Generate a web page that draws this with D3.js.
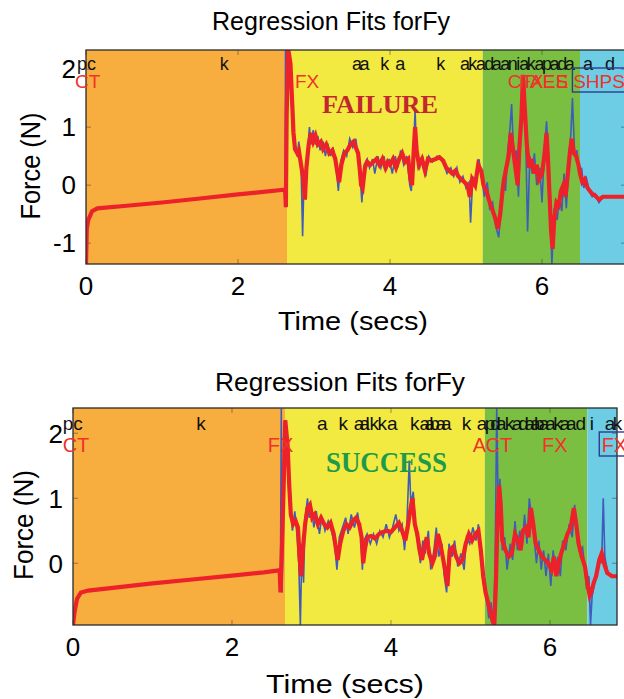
<!DOCTYPE html>
<html><head><meta charset="utf-8">
<script src="https://cdn.jsdelivr.net/npm/d3@7"></script>
<style>body{margin:0;background:#fff}svg{display:block}</style>
</head><body>
<script>
// ---------- DATA ----------
const chartTitle = "Regression Fits forFy";
const xLabel = "Time (secs)";
const yLabel = "Force (N)";
const xTicks = [0, 2, 4, 6];
const yTicksTop = [-1, 0, 1, 2];
const yTicksBottom = [0, 1, 2];
const phaseColors = ["#F8AE3F", "#F2EA41", "#7BBF42", "#6CCDE5"];
const phaseBoundsTop = [0, 2.645, 5.22, 6.5, 7.105];
const phaseBoundsBottom = [0, 2.667, 5.18, 6.47, 6.843];
const outcomeTop = "FAILURE";
const outcomeBottom = "SUCCESS";

// red regression fit, top panel (time, force)
const fitTop = [[0,-1.36],[0.01,-0.75],[0.03,-0.6],[0.08,-0.45],[0.15,-0.4],[0.5,-0.36],[1.0,-0.3],[1.5,-0.23],[2.0,-0.16],[2.3,-0.12],[2.6,-0.08],[2.62,-0.08],[2.63,-0.38],[2.64,1.2],[2.66,2.35],[2.69,2.1],[2.71,1.5],[2.73,0.9],[2.75,0.62],[2.78,0.55],[2.8,0.6],[2.83,0.35],[2.86,0.1],[2.88,-0.25],[2.9,0.3],[2.93,0.7],[2.96,0.9],[2.99,0.75],[3.02,0.85],[3.05,0.7],[3.09,0.75],[3.12,0.62],[3.16,0.7],[3.2,0.55],[3.24,0.6],[3.28,0.45],[3.31,0.2],[3.33,0.05],[3.36,0.35],[3.4,0.55],[3.44,0.6],[3.48,0.7],[3.52,0.75],[3.55,0.65],[3.58,0.55],[3.6,0.3],[3.62,0.0],[3.64,-0.05],[3.67,0.3],[3.7,0.4],[3.74,0.35],[3.78,0.4],[3.82,0.45],[3.86,0.35],[3.9,0.45],[3.94,0.3],[3.97,0.4],[4.0,0.35],[4.04,0.45],[4.08,0.3],[4.12,0.45],[4.16,0.55],[4.2,0.4],[4.24,0.45],[4.27,0.1],[4.29,0.0],[4.31,0.55],[4.33,1.0],[4.35,0.6],[4.38,0.35],[4.42,0.45],[4.46,0.25],[4.5,0.45],[4.54,0.42],[4.6,0.45],[4.65,0.48],[4.7,0.42],[4.74,0.3],[4.78,0.25],[4.82,0.2],[4.86,0.25],[4.9,0.15],[4.94,0.1],[4.98,0.05],[5.02,0.0],[5.05,-0.2],[5.08,0.1],[5.12,0.0],[5.16,0.35],[5.2,0.25],[5.23,0.0],[5.27,-0.1],[5.3,-0.25],[5.34,-0.4],[5.38,-0.55],[5.42,-0.75],[5.45,-0.5],[5.48,-0.1],[5.5,0.1],[5.53,0.3],[5.56,0.5],[5.59,0.9],[5.62,0.6],[5.65,0.3],[5.68,0.0],[5.7,0.6],[5.73,1.2],[5.75,1.9],[5.77,1.4],[5.8,0.7],[5.83,0.3],[5.86,0.45],[5.9,0.2],[5.93,0.35],[5.96,0.1],[6.0,0.2],[6.03,0.5],[6.06,0.9],[6.08,0.4],[6.1,-0.2],[6.12,-0.8],[6.14,-1.1],[6.16,-0.6],[6.19,-0.3],[6.22,-0.35],[6.25,-0.1],[6.28,0.0],[6.31,-0.2],[6.34,0.2],[6.37,0.6],[6.39,0.8],[6.42,0.55],[6.45,0.5],[6.48,0.35],[6.5,0.2],[6.53,0.05],[6.56,0.1],[6.6,-0.05],[6.63,-0.1],[6.66,-0.15],[6.7,-0.18],[6.75,-0.25],[6.8,-0.2],[6.9,-0.2],[7.0,-0.2],[7.11,-0.2]];

// blue raw force, top panel (time, force)
const rawTop = [[0,-1.36],[0.01,-0.7],[0.03,-0.58],[0.08,-0.44],[0.15,-0.4],[1.0,-0.3],[2.0,-0.16],[2.6,-0.08],[2.62,-0.1],[2.625,2.33],[2.63,-0.38],[2.64,1.2],[2.67,2.33],[2.7,1.6],[2.72,0.9],[2.75,0.7],[2.78,0.5],[2.8,0.75],[2.83,0.3],[2.85,-0.88],[2.87,0.2],[2.89,-0.2],[2.91,0.5],[2.94,1.0],[2.96,0.7],[2.99,0.95],[3.02,0.7],[3.05,0.85],[3.08,0.6],[3.12,0.75],[3.15,0.5],[3.18,0.72],[3.22,0.5],[3.25,0.65],[3.29,0.35],[3.32,-0.1],[3.35,0.4],[3.39,0.6],[3.43,0.5],[3.47,0.8],[3.51,0.65],[3.55,0.8],[3.58,0.5],[3.61,0.1],[3.63,-0.3],[3.66,0.35],[3.7,0.45],[3.73,0.3],[3.77,0.45],[3.8,0.2],[3.84,0.5],[3.88,0.3],[3.92,0.5],[3.95,0.25],[3.99,0.45],[4.03,0.2],[4.07,0.5],[4.1,0.3],[4.14,0.6],[4.18,0.35],[4.22,0.5],[4.26,0.0],[4.28,-0.1],[4.31,0.6],[4.33,1.3],[4.35,0.5],[4.39,0.3],[4.43,0.5],[4.47,0.15],[4.51,0.5],[4.56,0.4],[4.62,0.5],[4.67,0.45],[4.71,0.35],[4.75,0.2],[4.8,0.3],[4.84,0.15],[4.88,0.3],[4.92,0.05],[4.96,0.15],[5.0,-0.05],[5.04,0.05],[5.06,-0.65],[5.09,0.15],[5.13,-0.05],[5.17,0.45],[5.21,0.1],[5.24,-0.2],[5.28,0.05],[5.31,-0.4],[5.35,-0.3],[5.39,-0.7],[5.43,-0.9],[5.46,-0.4],[5.49,0.1],[5.52,-0.1],[5.55,0.6],[5.58,1.0],[5.6,1.4],[5.63,0.4],[5.66,0.6],[5.69,-0.2],[5.72,1.0],[5.75,1.9],[5.78,1.2],[5.81,-0.8],[5.84,0.5],[5.87,0.2],[5.9,0.55],[5.93,0.0],[5.97,0.3],[6.0,-0.3],[6.03,0.6],[6.06,1.1],[6.09,0.3],[6.11,-0.5],[6.13,-1.36],[6.16,-0.4],[6.2,-0.6],[6.23,-0.2],[6.26,-0.45],[6.29,0.2],[6.32,-0.4],[6.35,0.3],[6.38,0.9],[6.4,1.5],[6.43,0.5],[6.46,0.6],[6.49,0.2],[6.52,0.3],[6.55,-0.05],[6.58,0.15],[6.62,-0.1],[6.66,-0.2],[6.7,-0.15],[6.75,-0.3],[6.8,-0.2],[7.0,-0.2],[7.11,-0.2]];

// red regression fit, bottom panel
const fitBottom = [[0,-0.95],[0.02,-0.75],[0.05,-0.55],[0.1,-0.45],[0.19,-0.42],[0.5,-0.38],[1.0,-0.31],[1.5,-0.25],[2.0,-0.19],[2.4,-0.14],[2.59,-0.11],[2.6,-0.11],[2.61,-0.45],[2.63,0.3],[2.65,1.2],[2.67,2.2],[2.7,1.8],[2.72,1.2],[2.74,0.75],[2.77,0.6],[2.8,0.65],[2.83,0.55],[2.85,0.1],[2.87,-0.2],[2.89,0.2],[2.92,0.6],[2.95,0.85],[2.98,0.9],[3.01,0.7],[3.04,0.75],[3.08,0.6],[3.12,0.7],[3.16,0.6],[3.2,0.55],[3.24,0.62],[3.28,0.45],[3.31,0.2],[3.33,0.05],[3.36,0.3],[3.4,0.5],[3.44,0.6],[3.48,0.55],[3.52,0.65],[3.56,0.7],[3.6,0.6],[3.63,0.4],[3.65,0.0],[3.67,0.2],[3.7,0.4],[3.75,0.42],[3.8,0.38],[3.85,0.45],[3.9,0.48],[3.95,0.5],[4.0,0.48],[4.05,0.55],[4.1,0.62],[4.14,0.5],[4.18,0.35],[4.21,0.55],[4.24,0.8],[4.27,1.0],[4.3,0.6],[4.33,0.45],[4.36,0.2],[4.39,0.05],[4.42,0.25],[4.45,0.4],[4.48,0.15],[4.52,0.0],[4.55,0.1],[4.59,0.45],[4.62,0.3],[4.65,0.1],[4.68,-0.1],[4.71,-0.35],[4.74,0.2],[4.78,0.25],[4.82,0.1],[4.86,0.0],[4.9,0.05],[4.94,0.3],[4.98,0.45],[5.02,0.35],[5.06,0.45],[5.1,0.5],[5.13,0.2],[5.16,-0.2],[5.19,-0.45],[5.22,-0.6],[5.25,-0.75],[5.28,-0.9],[5.3,-0.95],[5.32,-0.3],[5.34,0.7],[5.36,1.2],[5.38,0.9],[5.4,0.35],[5.44,0.2],[5.48,0.1],[5.52,0.15],[5.56,0.45],[5.6,0.35],[5.63,0.2],[5.66,0.5],[5.7,0.55],[5.73,0.4],[5.76,0.85],[5.79,0.6],[5.82,0.3],[5.86,0.2],[5.9,0.1],[5.94,0.05],[5.98,0.0],[6.02,-0.1],[6.05,0.1],[6.08,-0.2],[6.11,0.0],[6.14,0.15],[6.18,0.3],[6.22,0.45],[6.26,0.55],[6.3,0.85],[6.33,0.6],[6.36,0.3],[6.4,0.1],[6.44,-0.05],[6.47,-0.3],[6.5,-0.5],[6.52,-0.45],[6.55,-0.3],[6.58,-0.2],[6.62,0.05],[6.65,0.15],[6.68,0.0],[6.72,-0.15],[6.78,-0.2],[6.85,-0.2]];

// blue raw force, bottom panel
const rawBottom = [[0,-0.95],[0.02,-0.7],[0.05,-0.55],[0.1,-0.45],[0.19,-0.42],[1.0,-0.31],[2.0,-0.19],[2.59,-0.11],[2.61,-0.12],[2.62,2.38],[2.63,-0.45],[2.65,1.2],[2.67,2.2],[2.7,1.6],[2.73,0.9],[2.76,0.5],[2.79,0.8],[2.82,0.4],[2.84,0.0],[2.86,-0.95],[2.88,0.3],[2.9,-0.3],[2.92,0.7],[2.95,1.0],[2.97,0.7],[3.0,0.85],[3.03,0.55],[3.06,0.8],[3.1,0.45],[3.13,0.72],[3.17,0.5],[3.21,0.65],[3.25,0.5],[3.29,0.3],[3.32,-0.1],[3.35,0.4],[3.39,0.55],[3.43,0.7],[3.46,0.45],[3.5,0.75],[3.54,0.55],[3.58,0.78],[3.62,0.45],[3.64,-0.1],[3.66,0.35],[3.7,0.45],[3.74,0.3],[3.78,0.45],[3.82,0.3],[3.86,0.5],[3.9,0.4],[3.94,0.6],[3.98,0.4],[4.02,0.55],[4.06,0.75],[4.1,0.5],[4.14,0.6],[4.17,0.2],[4.2,0.6],[4.23,1.58],[4.25,0.9],[4.28,1.1],[4.31,0.5],[4.34,0.3],[4.37,0.0],[4.4,0.35],[4.43,0.15],[4.47,0.5],[4.5,-0.1],[4.54,0.2],[4.57,0.55],[4.6,0.1],[4.64,0.3],[4.67,-0.2],[4.7,-0.45],[4.73,0.3],[4.77,0.1],[4.8,0.35],[4.84,-0.05],[4.88,0.15],[4.92,-0.1],[4.95,0.4],[4.99,0.3],[5.03,0.55],[5.07,0.35],[5.1,0.6],[5.13,0.1],[5.16,-0.3],[5.2,-0.5],[5.23,-0.85],[5.26,-0.6],[5.29,-0.95],[5.31,0.0],[5.33,2.38],[5.35,0.8],[5.37,1.3],[5.4,0.2],[5.43,0.4],[5.46,-0.1],[5.5,0.3],[5.53,0.05],[5.56,0.65],[5.59,0.2],[5.62,0.5],[5.65,0.25],[5.68,0.75],[5.71,0.3],[5.74,1.0],[5.77,0.7],[5.8,0.4],[5.83,0.0],[5.86,0.35],[5.89,-0.1],[5.92,0.2],[5.95,-0.2],[5.98,0.15],[6.01,-0.35],[6.04,0.2],[6.07,-0.1],[6.1,0.1],[6.13,-0.2],[6.16,0.35],[6.2,0.2],[6.24,0.6],[6.28,0.4],[6.31,0.9],[6.34,0.5],[6.37,0.2],[6.41,0.25],[6.44,-0.1],[6.46,-0.4],[6.49,-0.2],[6.51,-0.95],[6.53,-0.5],[6.56,-0.3],[6.59,-0.15],[6.62,0.1],[6.65,0.0],[6.67,1.0],[6.69,0.1],[6.72,-0.1],[6.76,-0.2],[6.85,-0.2]];

// event labels (time, text)
const eventsTopBlack = [[-0.12,"pc"],[1.76,"k"],[3.5,"a"],[3.6,"a"],[3.87,"k"],[4.07,"a"],[4.61,"k"],[4.92,"a"],[5.03,"k"],[5.13,"a"],[5.24,"d"],[5.34,"a"],[5.45,"a"],[5.55,"n"],[5.66,"i"],[5.7,"a"],[5.8,"k"],[5.9,"a"],[6.0,"p"],[6.1,"a"],[6.2,"d"],[6.3,"a"],[6.54,"a"],[6.83,"d"]];
const eventsTopRed = [[-0.145,"CT"],[2.75,"FX"],[5.55,"CT"],[5.7,"FX"],[5.84,"AE"],[6.01,"ES"],[6.18,"E"],[6.41,"SHPS"]];
const eventsBottomBlack = [[-0.13,"pc"],[1.55,"k"],[3.07,"a"],[3.34,"k"],[3.53,"a"],[3.6,"a"],[3.68,"l"],[3.73,"k"],[3.83,"k"],[3.95,"a"],[4.24,"k"],[4.36,"a"],[4.42,"a"],[4.48,"b"],[4.56,"a"],[4.63,"a"],[4.89,"k"],[5.08,"a"],[5.18,"p"],[5.25,"d"],[5.32,"a"],[5.43,"k"],[5.52,"a"],[5.6,"d"],[5.68,"a"],[5.75,"a"],[5.8,"b"],[5.86,"a"],[5.94,"a"],[6.04,"k"],[6.12,"a"],[6.2,"a"],[6.32,"d"],[6.5,"i"],[6.69,"a"],[6.79,"k"]];
const eventsBottomRed = [[-0.13,"CT"],[2.45,"FX"],[5.03,"A"],[5.19,"CT"],[5.9,"FX"],[6.65,"FX"]];
const boxedTop = [6.4, 7.3];
const boxedBottom = [6.62, 7.0];

// ---------- DRAW ----------
const svg = d3.select("body").append("svg").attr("width", 624).attr("height", 699);
const FONT = "Liberation Sans, Arial, sans-serif";

function panel(cfg) {
  const x = d3.scaleLinear().domain(cfg.xDomain).range([cfg.left, cfg.right]);
  const y = d3.scaleLinear().domain(cfg.yDomain).range([cfg.bottom, cfg.top]);
  const g = svg.append("g");
  const clipId = "clip" + cfg.id;
  g.append("clipPath").attr("id", clipId).append("rect")
    .attr("x", cfg.left).attr("y", cfg.top)
    .attr("width", cfg.right - cfg.left).attr("height", cfg.bottom - cfg.top);

  const phases = phaseColors.map((c, i) => ({c, a: cfg.bounds[i], b: cfg.bounds[i + 1]}));
  g.selectAll("rect.phase").data(phases).join("rect")
    .attr("x", d => x(d.a)).attr("width", d => x(d.b) - x(d.a))
    .attr("y", cfg.top).attr("height", cfg.bottom - cfg.top)
    .attr("fill", d => d.c);

  const tg = g.append("g").attr("stroke", "rgba(40,40,40,0.45)").attr("stroke-width", 1);
  xTicks.forEach(t => {
    tg.append("line").attr("x1", x(t)).attr("x2", x(t)).attr("y1", cfg.bottom).attr("y2", cfg.bottom - 5);
    tg.append("line").attr("x1", x(t)).attr("x2", x(t)).attr("y1", cfg.top).attr("y2", cfg.top + 5);
  });
  cfg.yTicks.forEach(t => {
    tg.append("line").attr("x1", cfg.left).attr("x2", cfg.left + 5).attr("y1", y(t)).attr("y2", y(t));
    tg.append("line").attr("x1", cfg.right).attr("x2", cfg.right - 5).attr("y1", y(t)).attr("y2", y(t));
  });

  const line = d3.line().x(d => x(d[0])).y(d => y(d[1]));
  const dg = g.append("g").attr("clip-path", `url(#${clipId})`);
  dg.append("path").datum(cfg.raw).attr("d", line).attr("fill", "none")
    .attr("stroke", "#3F5DB8").attr("stroke-width", 1.6);
  dg.append("path").datum(cfg.fit).attr("d", line).attr("fill", "none")
    .attr("stroke", "#EC2129").attr("stroke-width", 4.2).attr("stroke-linejoin", "miter");

  g.append("rect").attr("x", cfg.left).attr("y", cfg.top)
    .attr("width", cfg.right - cfg.left).attr("height", cfg.bottom - cfg.top)
    .attr("fill", "none").attr("stroke", "#2a2a2a").attr("stroke-width", 1.3);

  const lg = svg.append("g").attr("font-family", FONT);
  lg.selectAll("text.blk").data(cfg.black).join("text")
    .attr("x", d => x(d[0])).attr("y", cfg.top + cfg.blackDy)
    .attr("font-size", cfg.evSize).attr("fill", "#111").text(d => d[1]);
  lg.selectAll("text.red").data(cfg.red).join("text")
    .attr("x", d => x(d[0])).attr("y", cfg.top + cfg.redDy)
    .attr("font-size", cfg.evSize + 1).attr("fill", "#F0322C").text(d => d[1]);
  lg.append("rect").attr("x", x(cfg.box[0])).attr("width", x(cfg.box[1]) - x(cfg.box[0]))
    .attr("y", cfg.top + cfg.redDy - 20).attr("height", 24)
    .attr("fill", "none").attr("stroke", "#2E3C8C").attr("stroke-width", 1.4);

  svg.append("text").attr("x", cfg.outX).attr("y", cfg.outY)
    .attr("font-family", "Liberation Serif, Times New Roman, serif").attr("font-weight", "bold")
    .attr("font-size", cfg.outSize).attr("fill", cfg.outColor)
    .attr("textLength", cfg.outLen).attr("lengthAdjust", "spacingAndGlyphs")
    .text(cfg.outcome);

  svg.append("g").selectAll("text").data(xTicks).join("text")
    .attr("x", d => x(d)).attr("y", cfg.bottom + 31).attr("text-anchor", "middle")
    .attr("font-family", FONT).attr("font-size", 26).attr("fill", "#000").text(d => d);
  svg.append("g").selectAll("text").data(cfg.yTicks).join("text")
    .attr("x", cfg.left - 10).attr("y", d => y(d)).attr("dy", "0.36em").attr("text-anchor", "end")
    .attr("font-family", FONT).attr("font-size", 26).attr("fill", "#000").text(d => d);

  svg.append("text").attr("x", cfg.titleX).attr("y", cfg.titleY).attr("text-anchor", "middle")
    .attr("font-family", FONT).attr("font-size", 25)
    .attr("textLength", cfg.titleLen).attr("lengthAdjust", "spacingAndGlyphs").text(chartTitle);
  svg.append("text").attr("x", cfg.xlabX).attr("y", cfg.xlabY).attr("text-anchor", "middle")
    .attr("font-family", FONT).attr("font-size", 26)
    .attr("textLength", cfg.xlabLen).attr("lengthAdjust", "spacingAndGlyphs").text(xLabel);
  svg.append("text").attr("transform", `translate(${cfg.ylabX},${cfg.ylabY}) rotate(-90)`)
    .attr("text-anchor", "middle").attr("font-family", FONT).attr("font-size", 27)
    .attr("textLength", cfg.ylabLen).attr("lengthAdjust", "spacingAndGlyphs").text(yLabel);
}

panel({
  id: "top", left: 86, right: 626, top: 50, bottom: 264,
  xDomain: [0, 7.105], yDomain: [-1.36, 2.33], yTicks: yTicksTop,
  bounds: phaseBoundsTop, fit: fitTop, raw: rawTop,
  black: eventsTopBlack, red: eventsTopRed, box: boxedTop,
  blackDy: 20, redDy: 38, evSize: 18,
  outcome: outcomeTop, outX: 322, outY: 113, outSize: 26, outLen: 116, outColor: "#C1272D",
  titleX: 331, titleY: 30, titleLen: 238,
  xlabX: 353, xlabY: 330, xlabLen: 150,
  ylabX: 40, ylabY: 166, ylabLen: 107
});
panel({
  id: "bot", left: 73, right: 617, top: 408, bottom: 625,
  xDomain: [0, 6.843], yDomain: [-0.95, 2.388], yTicks: yTicksBottom,
  bounds: phaseBoundsBottom, fit: fitBottom, raw: rawBottom,
  black: eventsBottomBlack, red: eventsBottomRed, box: boxedBottom,
  blackDy: 22, redDy: 44, evSize: 19,
  outcome: outcomeBottom, outX: 326, outY: 472, outSize: 30, outLen: 121, outColor: "#1E9A4B",
  titleX: 340, titleY: 391, titleLen: 250,
  xlabX: 345, xlabY: 693, xlabLen: 158,
  ylabX: 33, ylabY: 525, ylabLen: 110
});
</script>
</body></html>
